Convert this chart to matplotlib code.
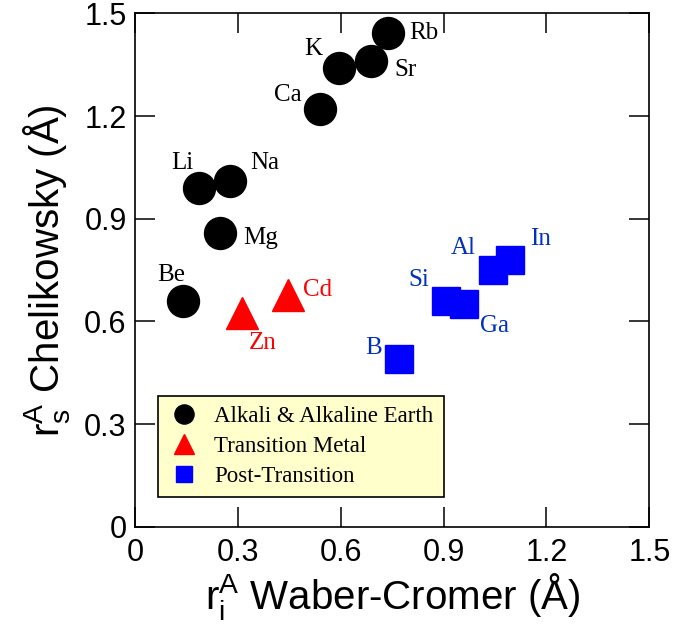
import matplotlib
matplotlib.use("Agg")
import matplotlib.pyplot as plt

plt.rcParams['font.family'] = ['Liberation Sans', 'DejaVu Sans']
plt.rcParams['mathtext.fontset'] = 'custom'
plt.rcParams['mathtext.rm'] = 'Liberation Sans'
plt.rcParams['mathtext.it'] = 'Liberation Sans'
plt.rcParams['mathtext.default'] = 'regular'

# Data
alk_names = ['Be', 'Li', 'Mg', 'Na', 'Ca', 'K', 'Sr', 'Rb']
alk_x = [0.139, 0.188, 0.248, 0.277, 0.540, 0.594, 0.687, 0.737]
alk_y = [0.660, 0.990, 0.859, 1.011, 1.221, 1.342, 1.362, 1.442]

tm_names = ['Zn', 'Cd']
tm_x = [0.313, 0.445]
tm_y = [0.625, 0.677]

pt_names = ['B', 'Si', 'Ga', 'Al', 'In']
pt_x = [0.770, 0.906, 0.960, 1.045, 1.094]
pt_y = [0.490, 0.660, 0.650, 0.750, 0.779]

# label offsets in pixels (dx, dy) and alignment
alk_off = {'Be': (-11, 26, 'center'), 'Li': (-6, 25, 'right'), 'Mg': (23, -5, 'left'),
           'Na': (20, 18, 'left'), 'Ca': (-19, 14, 'right'), 'K': (-16, 19, 'right'),
           'Sr': (24, -9, 'left'), 'Rb': (22, 0, 'left')}
tm_off = {'Zn': (6, -30, 'left'), 'Cd': (15, 5, 'left')}
pt_off = {'B': (-17, 11, 'right'), 'Si': (-16, 21, 'right'), 'Ga': (16, -22, 'left'),
          'Al': (-18, 22, 'right'), 'In': (20, 21, 'left')}

RED = '#ff0000'
BLUE = '#0000ff'
BLUE_TXT = '#0030c0'

fig = plt.figure(figsize=(6.75, 6.4), dpi=100)
ax = fig.add_axes([0.2, 0.177, 0.762, 0.802])

ax.plot(alk_x, alk_y, 'o', color='black', markersize=23, linestyle='none',
        label='Alkali & Alkaline Earth')
ax.plot(tm_x, tm_y, '^', color=RED, markersize=23, linestyle='none',
        label='Transition Metal')
ax.plot(pt_x, pt_y, 's', color=BLUE, markersize=20, linestyle='none',
        label='Post-Transition')

serif = ['Liberation Serif', 'DejaVu Serif']

def annotate(names, xs, ys, offs, color):
    for n, x, y in zip(names, xs, ys):
        dx, dy, ha = offs[n]
        ax.annotate(n, (x, y), xytext=(dx, dy), textcoords='offset pixels',
                    ha=ha, va='center', fontsize=18, color=color, family=serif)

annotate(alk_names, alk_x, alk_y, alk_off, 'black')
annotate(tm_names, tm_x, tm_y, tm_off, RED)
annotate(pt_names, pt_x, pt_y, pt_off, BLUE_TXT)

ax.set_xlim(0, 1.5)
ax.set_ylim(0, 1.5)
ticks = [0, 0.3, 0.6, 0.9, 1.2, 1.5]
tick_labels = ['0', '0.3', '0.6', '0.9', '1.2', '1.5']
ax.set_xticks(ticks)
ax.set_xticklabels(tick_labels)
ax.set_yticks(ticks)
ax.set_yticklabels(tick_labels)
ax.tick_params(direction='in', length=14.4, width=1.1, labelsize=22,
               top=True, right=True)
ax.tick_params(axis='x', pad=8)
ax.tick_params(axis='y', pad=6)
for s in ax.spines.values():
    s.set_linewidth(1.2)

ax.set_xlabel(r'$r_i^A$ Waber-Cromer (Å)', fontsize=29, labelpad=2)
ax.set_ylabel(r'$r_s^A$ Chelikowsky (Å)', fontsize=29, labelpad=9)

leg = ax.legend(loc='lower left', bbox_to_anchor=(0.045, 0.058), markerscale=0.6,
                prop={'family': serif, 'size': 16.5}, frameon=True, fancybox=False,
                borderaxespad=0, labelspacing=0.38, handletextpad=0.6,
                handlelength=1.4, borderpad=0.45)
fr = leg.get_frame()
fr.set_facecolor('#ffffcc')
fr.set_edgecolor('black')
fr.set_linewidth(1.2)
fr.set_alpha(1)

fig.savefig('out.png', dpi=100)
